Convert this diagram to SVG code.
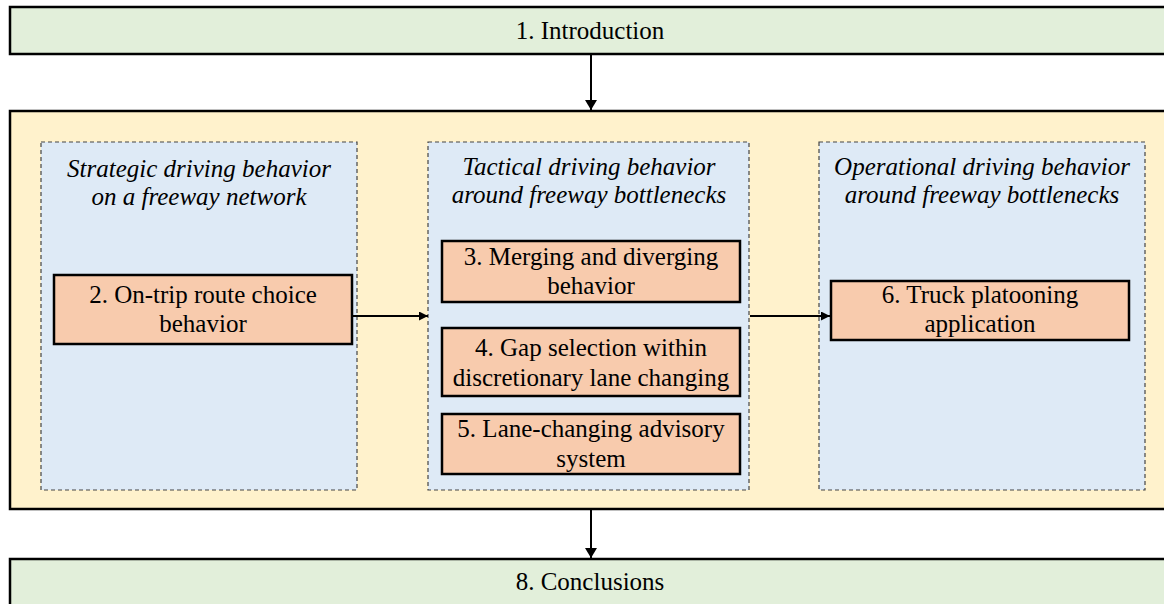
<svg xmlns="http://www.w3.org/2000/svg" width="1164" height="604" viewBox="0 0 1164 604">
<style>
.green{fill:#E2EFDA;stroke:#000;stroke-width:2.5}
.outer{fill:#FFF2CC;stroke:#000;stroke-width:2.5}
.panel{fill:#DEEAF6;stroke:#444;stroke-width:1.2;stroke-dasharray:4 3}
.box{fill:#F8CBAD;stroke:#000;stroke-width:2.5}
text{font-family:"Liberation Serif","Times New Roman",serif;font-size:25px;fill:#000;text-anchor:middle}
.it{font-style:italic}
.conn{stroke:#000;stroke-width:2;fill:none}
</style>
<defs>
<marker id="ahv" viewBox="0 0 10 12" refX="10" refY="6" markerWidth="10" markerHeight="12" orient="auto" markerUnits="userSpaceOnUse">
<path d="M0,0 L10,6 L0,12 z" fill="#000"/>
</marker>
<marker id="ahh" viewBox="0 0 10 10" refX="10" refY="5" markerWidth="9" markerHeight="9" orient="auto" markerUnits="userSpaceOnUse">
<path d="M0,0 L10,5 L0,10 z" fill="#000"/>
</marker>
</defs>
<g id="intro">
<rect class="green" x="10" y="7" width="1170" height="47"/>
<text x="590" y="39">1. Introduction</text>
</g>
<g id="main">
<rect class="outer" x="10" y="111" width="1170" height="398"/>
</g>
<g id="strategic">
<rect class="panel" x="41" y="142" width="316" height="348"/>
<text class="it" x="199" y="177">Strategic driving behavior</text>
<text class="it" x="199" y="205">on a freeway network</text>
</g>
<g id="tactical">
<rect class="panel" x="428" y="142" width="321" height="348"/>
<text class="it" x="589" y="175">Tactical driving behavior</text>
<text class="it" x="589" y="203">around freeway bottlenecks</text>
</g>
<g id="operational">
<rect class="panel" x="819" y="142" width="326" height="348"/>
<text class="it" x="982" y="175">Operational driving behavior</text>
<text class="it" x="982" y="203">around freeway bottlenecks</text>
</g>
<g id="n2">
<rect class="box" x="54" y="275" width="298" height="69"/>
<text x="203" y="303">2. On-trip route choice</text>
<text x="203" y="332">behavior</text>
</g>
<g id="n3">
<rect class="box" x="442" y="241" width="298" height="61"/>
<text x="591" y="265">3. Merging and diverging</text>
<text x="591" y="294">behavior</text>
</g>
<g id="n4">
<rect class="box" x="442" y="328" width="298" height="68"/>
<text x="591" y="356">4. Gap selection within</text>
<text x="591" y="386">discretionary lane changing</text>
</g>
<g id="n5">
<rect class="box" x="442" y="414" width="298" height="60"/>
<text x="591" y="437">5. Lane-changing advisory</text>
<text x="591" y="467">system</text>
</g>
<g id="n6">
<rect class="box" x="831" y="281" width="298" height="59"/>
<text x="980" y="303">6. Truck platooning</text>
<text x="980" y="332">application</text>
</g>
<g id="n8">
<rect class="green" x="10" y="559" width="1170" height="60"/>
<text x="590" y="590">8. Conclusions</text>
</g>
<g id="connectors">
<line class="conn" x1="591" y1="54" x2="591" y2="110" marker-end="url(#ahv)"/>
<line class="conn" x1="591" y1="509" x2="591" y2="558" marker-end="url(#ahv)"/>
<line class="conn" x1="353" y1="316" x2="428" y2="316" marker-end="url(#ahh)"/>
<line class="conn" x1="750" y1="316" x2="830" y2="316" marker-end="url(#ahh)"/>
</g>
</svg>
